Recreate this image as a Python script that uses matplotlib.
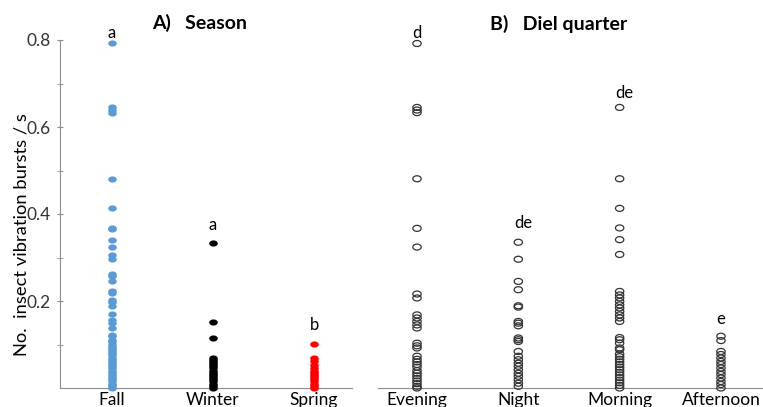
import numpy as np
import matplotlib
matplotlib.use("Agg")
import matplotlib.pyplot as plt
from matplotlib.path import Path

plt.rcParams['font.family'] = ['Lato', 'DejaVu Sans']

# Panel A: season
seasons = ["Fall", "Winter", "Spring"]
fall = [0.792, 0.645, 0.639, 0.632, 0.481, 0.413, 0.368, 0.366, 0.341, 0.324,
        0.306, 0.297, 0.263, 0.258, 0.245, 0.224, 0.218, 0.203, 0.198, 0.188,
        0.169, 0.157, 0.149, 0.138, 0.122, 0.119, 0.111, 0.105, 0.10, 0.095,
        0.09, 0.085, 0.08, 0.075, 0.07, 0.065, 0.06, 0.055, 0.05, 0.045, 0.04,
        0.035, 0.03, 0.025, 0.02, 0.015, 0.01, 0.005, 0.0]
winter = [0.333, 0.152, 0.116, 0.069, 0.065, 0.06, 0.055, 0.05, 0.045, 0.04,
          0.035, 0.03, 0.025, 0.02, 0.015, 0.01, 0.005, 0.0]
spring = [0.101, 0.069, 0.061, 0.054, 0.045, 0.04, 0.035, 0.03, 0.025, 0.02,
          0.015, 0.01, 0.005, 0.0]
season_colors = ["#5b9bd5", "black", "#ff0000"]
season_letters = ["a", "a", "b"]
season_letter_y = [0.815, 0.374, 0.145]

# Panel B: diel quarter
quarters = ["Evening", "Night", "Morning", "Afternoon"]
evening = [0.792, 0.645, 0.639, 0.633, 0.481, 0.367, 0.324, 0.216, 0.207, 0.168,
           0.161, 0.153, 0.145, 0.138, 0.103, 0.097, 0.092, 0.073, 0.066, 0.06,
           0.054, 0.048, 0.04, 0.034, 0.028, 0.022, 0.016, 0.01, 0.004, 0.0]
night = [0.335, 0.296, 0.245, 0.226, 0.189, 0.186, 0.153, 0.149, 0.143, 0.115,
         0.111, 0.107, 0.084, 0.073, 0.065, 0.057, 0.05, 0.042, 0.034, 0.027,
         0.019, 0.011, 0.004]
morning = [0.645, 0.481, 0.413, 0.368, 0.341, 0.307, 0.222, 0.214, 0.207, 0.199,
           0.191, 0.184, 0.176, 0.168, 0.161, 0.153, 0.116, 0.111, 0.103, 0.092,
           0.088, 0.078, 0.072, 0.066, 0.06, 0.054, 0.048, 0.042, 0.036, 0.03,
           0.024, 0.018, 0.012, 0.006, 0.0]
afternoon = [0.119, 0.109, 0.084, 0.077, 0.069, 0.061, 0.054, 0.046, 0.038,
             0.031, 0.023, 0.015, 0.008, 0.0]
quarter_letters = ["d", "de", "de", "e"]
quarter_letter_y = [0.815, 0.380, 0.678, 0.158]

# flattened ellipse marker (dots look wider than tall in the original)
th = np.linspace(0, 2 * np.pi, 40)
ell = Path(np.column_stack([np.cos(th), 0.72 * np.sin(th)]), closed=True)

axis_gray = "#8c8c8c"
fig = plt.figure(figsize=(7.63, 4.07), dpi=100)

axA = fig.add_axes([60 / 763, 19 / 407, 292 / 763, 348 / 407])
for i, (vals, col) in enumerate(zip([fall, winter, spring], season_colors)):
    axA.scatter([i + 1] * len(vals), vals, s=38, marker=ell, color=col,
                linewidths=0, clip_on=False, zorder=3)
    axA.text(i + 1, season_letter_y[i], season_letters[i], ha="center",
             va="center", fontsize=12)
axA.set_xlim(0.485, 3.376)
axA.set_ylim(0, 0.8)
axA.set_xticks([1, 2, 3])
axA.set_xticklabels(seasons, fontsize=12.5)
axA.set_yticks([0.2, 0.4, 0.6, 0.8])
axA.set_yticklabels(["0.2", "0.4", "0.6", "0.8"], fontsize=12.5, color="#333333")
axA.set_yticks([0.1, 0.3, 0.5, 0.7], minor=True)
axA.tick_params(axis="y", which="both", direction="inout", length=5,
                color=axis_gray, pad=4)
axA.tick_params(axis="x", length=0, pad=3)
for sp in ["top", "right"]:
    axA.spines[sp].set_visible(False)
axA.spines["left"].set_color(axis_gray)
axA.spines["bottom"].set_color(axis_gray)
axA.set_ylabel("No.  insect vibration bursts / s", fontsize=13.2)
axA.yaxis.set_label_coords(-0.106, 0.44)

axB = fig.add_axes([378 / 763, 19 / 407, 385 / 763, 348 / 407])
for i, vals in enumerate([evening, night, morning, afternoon]):
    axB.scatter([i + 1] * len(vals), vals, s=36, marker=ell,
                facecolors="none", edgecolors="#333333", linewidths=0.9,
                clip_on=False, zorder=3)
    axB.text(i + 1.05 if len(quarter_letters[i]) > 1 else i + 1,
             quarter_letter_y[i], quarter_letters[i], ha="center",
             va="center", fontsize=12)
axB.set_xlim(0.615, 4.415)
axB.set_ylim(0, 0.8)
axB.set_xticks([1, 2, 3, 4])
axB.set_xticklabels(quarters, fontsize=12.5)
axB.set_yticks([])
axB.tick_params(axis="x", length=0, pad=3)
for sp in ["top", "right", "left"]:
    axB.spines[sp].set_visible(False)
axB.spines["bottom"].set_color(axis_gray)

fig.text(200 / 763, 1 - 23 / 407, "A)   Season", ha="center", va="center",
         fontsize=14, fontweight="bold")
fig.text(559 / 763, 1 - 24 / 407, "B)   Diel quarter", ha="center",
         va="center", fontsize=14, fontweight="bold")

fig.savefig("out.png", dpi=100)
